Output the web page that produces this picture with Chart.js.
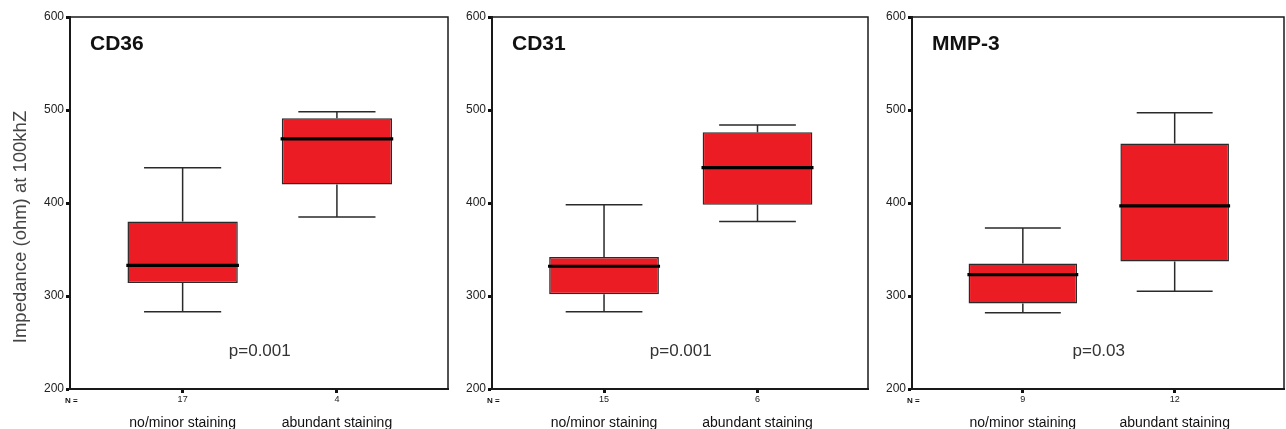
<!DOCTYPE html>
<html>
<head>
<meta charset="utf-8">
<script src="https://cdn.jsdelivr.net/npm/chart.js@4"></script>
<style>
  body { margin: 0; background: #fff; }
  #wrap { position: relative; width: 1286px; height: 429px; overflow: hidden; }
  .panel { position: absolute; top: 0; height: 429px; }
</style>
</head>
<body>
<div id="wrap">
  <div class="panel" style="left:0px"><canvas id="c0" width="450" height="429"></canvas></div>
  <div class="panel" style="left:450px"><canvas id="c1" width="420" height="429"></canvas></div>
  <div class="panel" style="left:870px"><canvas id="c2" width="416" height="429"></canvas></div>
</div>
<script>
// groups and per-panel box plot values (ohm)
const groups = ['no/minor staining', 'abundant staining'];
const panelNames = ['CD36', 'CD31', 'MMP-3'];
const pValues = ['p=0.001', 'p=0.001', 'p=0.03'];
const counts = [[17, 4], [15, 6], [9, 12]];
const whiskerLow = [[283, 385], [283, 380], [282, 305]];
const q1 = [[314, 420], [302, 398], [292, 337]];
const median = [[333, 469], [332, 438], [323, 397]];
const q3 = [[380, 491], [342, 476], [335, 464]];
const whiskerHigh = [[438, 498], [398, 484], [373, 497]];
const yTicks = [200, 300, 400, 500, 600];
const yTitle = 'Impedance (ohm) at 100khZ';

const FONT = "'Liberation Sans', Arial, sans-serif";
const RED = '#ec1c24';
const INK = '#1a1a1a';

// extra text and the frame around the plot
const decor = {
    id: 'decor',
    afterDraw(chart, args, opts) {
        const ctx = chart.ctx;
        const a = chart.chartArea;
        ctx.save();
        ctx.strokeStyle = INK;
        ctx.lineWidth = 1.5;
        ctx.strokeRect(a.left, a.top, a.right - a.left, a.bottom - a.top);

        ctx.fillStyle = '#111';
        ctx.font = 'bold 21px ' + FONT;
        ctx.textAlign = 'left';
        ctx.textBaseline = 'alphabetic';
        ctx.fillText(opts.name, a.left + 20, a.top + 33);

        ctx.fillStyle = '#333';
        ctx.font = '17px ' + FONT;
        ctx.textAlign = 'center';
        ctx.textBaseline = 'middle';
        ctx.fillText(opts.p, chart.scales.x.getPixelForValue(1.5), chart.scales.y.getPixelForValue(240));

        ctx.fillStyle = '#111';
        ctx.font = 'bold 8px ' + FONT;
        ctx.textAlign = 'left';
        ctx.fillText('N =', a.left - 5, a.bottom + 12);

        if (opts.yTitle) {
            ctx.translate(20.5, 227);
            ctx.rotate(-Math.PI / 2);
            ctx.fillStyle = '#444';
            ctx.font = '18.5px ' + FONT;
            ctx.textAlign = 'center';
            ctx.textBaseline = 'middle';
            ctx.fillText(opts.yTitle, 0, 0);
        }
        ctx.restore();
    }
};

function makePanel(p, yWidth) {
    const capHalf = 0.25;
    const medHalf = 0.365;
    const whiskers = [];
    const medians = [];
    groups.forEach((g, i) => {
        const x = i + 1;
        whiskers.push(
            {x: x - capHalf, y: whiskerHigh[p][i]}, {x: x + capHalf, y: whiskerHigh[p][i]}, {x: x, y: null},
            {x: x, y: whiskerHigh[p][i]}, {x: x, y: q3[p][i]}, {x: x, y: null},
            {x: x, y: q1[p][i]}, {x: x, y: whiskerLow[p][i]}, {x: x, y: null},
            {x: x - capHalf, y: whiskerLow[p][i]}, {x: x + capHalf, y: whiskerLow[p][i]}, {x: x, y: null}
        );
        medians.push({x: x - medHalf, y: median[p][i]}, {x: x + medHalf, y: median[p][i]}, {x: x, y: null});
    });

    const groupTicks = scale => { scale.ticks = groups.map((g, i) => ({value: i + 1})); };

    new Chart(document.getElementById('c' + p), {
        type: 'bar',
        data: {
            datasets: [
                {
                    type: 'line',
                    data: medians,
                    borderColor: '#000',
                    borderWidth: 3.2,
                    pointRadius: 0,
                    spanGaps: false,
                    order: 0
                },
                {
                    type: 'line',
                    data: whiskers,
                    borderColor: '#2a2a2a',
                    borderWidth: 1.5,
                    pointRadius: 0,
                    spanGaps: false,
                    order: 1
                },
                {
                    type: 'bar',
                    data: groups.map((g, i) => ({x: i + 1, y: [q1[p][i], q3[p][i]]})),
                    backgroundColor: RED,
                    borderColor: '#2a2a2a',
                    borderWidth: 1.5,
                    borderSkipped: false,
                    barPercentage: 0.715,
                    categoryPercentage: 1,
                    order: 2
                }
            ]
        },
        options: {
            responsive: false,
            animation: false,
            layout: { padding: { top: 17, right: 2, left: 0, bottom: 0 } },
            plugins: {
                legend: { display: false },
                tooltip: { enabled: false },
                decor: { name: panelNames[p], p: pValues[p], yTitle: p === 0 ? yTitle : null }
            },
            scales: {
                x: {
                    type: 'linear',
                    position: 'bottom',
                    min: 0.27,
                    max: 2.72,
                    offset: false,
                    weight: 0,
                    afterBuildTicks: groupTicks,
                    afterFit: scale => { scale.height = 18; },
                    grid: { drawOnChartArea: false, offset: false, tickLength: 4, tickWidth: 3, tickColor: '#111' },
                    border: { display: true, color: INK, width: 2 },
                    ticks: {
                        padding: 1,
                        color: '#222',
                        font: { family: FONT, size: 9 },
                        maxRotation: 0,
                        callback: v => counts[p][v - 1]
                    }
                },
                xn: {
                    type: 'linear',
                    axis: 'x',
                    position: 'bottom',
                    min: 0.27,
                    max: 2.72,
                    offset: false,
                    weight: 1,
                    afterBuildTicks: groupTicks,
                    afterFit: scale => { scale.height = 22; },
                    grid: { display: false, drawTicks: false },
                    border: { display: false },
                    ticks: {
                        padding: 8,
                        color: '#111',
                        font: { family: FONT, size: 14 },
                        maxRotation: 0,
                        callback: v => groups[v - 1]
                    }
                },
                y: {
                    type: 'linear',
                    min: 200,
                    max: 600,
                    afterBuildTicks: scale => { scale.ticks = yTicks.map(v => ({value: v})); },
                    afterFit: scale => { scale.width = yWidth; },
                    grid: { drawOnChartArea: false, tickLength: 4, tickWidth: 3, tickColor: '#111' },
                    border: { display: true, color: INK, width: 2 },
                    ticks: {
                        padding: 2,
                        color: '#222',
                        font: { family: FONT, size: 12 }
                    }
                }
            }
        },
        plugins: [decor]
    });
}

makePanel(0, 70);
makePanel(1, 42);
makePanel(2, 42);
</script>
</body>
</html>
